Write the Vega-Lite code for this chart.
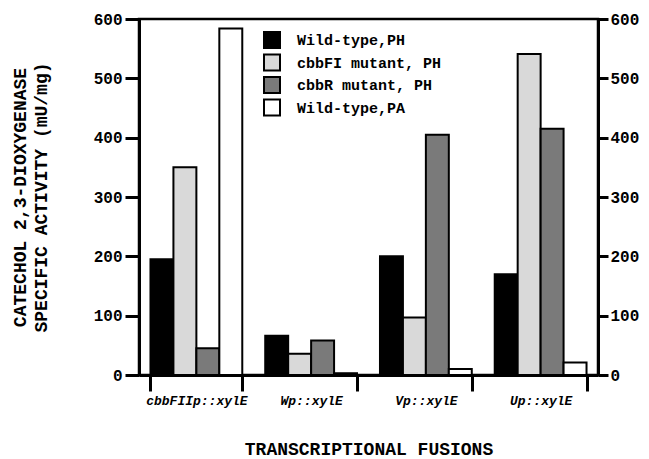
{
  "$schema": "https://vega.github.io/schema/vega-lite/v6.json",
  "width": 459,
  "height": 356,
  "autosize": "none",
  "padding": {"left": 139, "top": 19, "right": 51, "bottom": 84},
  "background": "white",
  "config": {
    "view": {"stroke": "black", "strokeWidth": 2.5},
    "font": "Liberation Mono"
  },
  "data": {
    "values": [
      {"fusion": "cbbFIIp::xylE", "strain": "Wild-type,PH", "activity": 195},
      {"fusion": "cbbFIIp::xylE", "strain": "cbbFI mutant, PH", "activity": 350},
      {"fusion": "cbbFIIp::xylE", "strain": "cbbR mutant, PH", "activity": 45},
      {"fusion": "cbbFIIp::xylE", "strain": "Wild-type,PA", "activity": 584},
      {"fusion": "Wp::xylE", "strain": "Wild-type,PH", "activity": 66},
      {"fusion": "Wp::xylE", "strain": "cbbFI mutant, PH", "activity": 36},
      {"fusion": "Wp::xylE", "strain": "cbbR mutant, PH", "activity": 58},
      {"fusion": "Wp::xylE", "strain": "Wild-type,PA", "activity": 3},
      {"fusion": "Vp::xylE", "strain": "Wild-type,PH", "activity": 200},
      {"fusion": "Vp::xylE", "strain": "cbbFI mutant, PH", "activity": 97},
      {"fusion": "Vp::xylE", "strain": "cbbR mutant, PH", "activity": 405},
      {"fusion": "Vp::xylE", "strain": "Wild-type,PA", "activity": 10},
      {"fusion": "Up::xylE", "strain": "Wild-type,PH", "activity": 170},
      {"fusion": "Up::xylE", "strain": "cbbFI mutant, PH", "activity": 541},
      {"fusion": "Up::xylE", "strain": "cbbR mutant, PH", "activity": 415},
      {"fusion": "Up::xylE", "strain": "Wild-type,PA", "activity": 21}
    ]
  },
  "layer": [
    {
      "mark": {"type": "bar", "stroke": "black", "strokeWidth": 2},
      "encoding": {
        "x": {
          "field": "fusion", "type": "nominal", "sort": null,
          "scale": {"paddingInner": 0.2, "paddingOuter": 0.1},
          "axis": {
            "orient": "bottom", "labelAngle": 0, "tickBand": "extent",
            "tickSize": 16, "tickWidth": 3, "tickColor": "black",
            "domainColor": "black", "domainWidth": 3,
            "labelFont": "Liberation Mono", "labelFontWeight": "bold", "labelFontStyle": "italic",
            "labelFontSize": 13, "labelColor": "black", "labelPadding": 3,
            "title": "TRANSCRIPTIONAL FUSIONS", "titleFont": "Liberation Mono",
            "titleFontWeight": "bold", "titleFontSize": 18, "titleColor": "black",
            "titlePadding": 33
          }
        },
        "xOffset": {"field": "strain", "type": "nominal", "sort": null,
          "scale": {"paddingInner": 0, "paddingOuter": 0}},
        "y": {
          "field": "activity", "type": "quantitative",
          "scale": {"domain": [0, 600], "nice": false},
          "axis": {
            "orient": "left", "values": [0, 100, 200, 300, 400, 500, 600], "grid": false,
            "tickSize": 14, "tickWidth": 3, "tickColor": "black",
            "domainColor": "black", "domainWidth": 3,
            "labelFont": "Liberation Mono", "labelFontWeight": "bold", "labelFontSize": 16,
            "labelColor": "black", "labelPadding": 3,
            "title": ["CATECHOL 2,3-DIOXYGENASE", "SPECIFIC ACTIVITY (mU/mg)"],
            "titleFont": "Liberation Mono", "titleFontWeight": "bold", "titleFontSize": 18,
            "titleColor": "black", "titlePadding": 43, "titleLineHeight": 21
          }
        },
        "fill": {
          "field": "strain", "type": "nominal", "sort": null,
          "scale": {
            "domain": ["Wild-type,PH", "cbbFI mutant, PH", "cbbR mutant, PH", "Wild-type,PA"],
            "range": ["#000000", "#d9d9d9", "#7a7a7a", "#ffffff"]
          },
          "legend": {
            "orient": "none", "legendX": 124, "legendY": 12, "title": null,
            "symbolType": "square", "symbolSize": 256, "symbolStrokeColor": "black",
            "symbolStrokeWidth": 2, "symbolOpacity": 1, "rowPadding": -1.5,
            "labelFont": "Liberation Mono", "labelFontWeight": "bold", "labelFontSize": 15,
            "labelColor": "black", "labelOffset": 16
          }
        }
      }
    },
    {
      "mark": {"type": "bar", "opacity": 0},
      "encoding": {
        "x": {"field": "fusion", "type": "nominal", "sort": null,
          "scale": {"paddingInner": 0.2, "paddingOuter": 0.1}},
        "xOffset": {"field": "strain", "type": "nominal", "sort": null},
        "y": {
          "field": "activity", "type": "quantitative",
          "scale": {"domain": [0, 600], "nice": false},
          "axis": {
            "orient": "right", "values": [0, 100, 200, 300, 400, 500, 600], "grid": false,
            "tickSize": 10, "tickWidth": 3, "tickColor": "black",
            "domainColor": "black", "domainWidth": 3,
            "labelFont": "Liberation Mono", "labelFontWeight": "bold", "labelFontSize": 16,
            "labelColor": "black", "labelPadding": 2, "title": null
          }
        }
      }
    }
  ],
  "resolve": {"scale": {"y": "independent"}, "axis": {"y": "independent"}}
}
